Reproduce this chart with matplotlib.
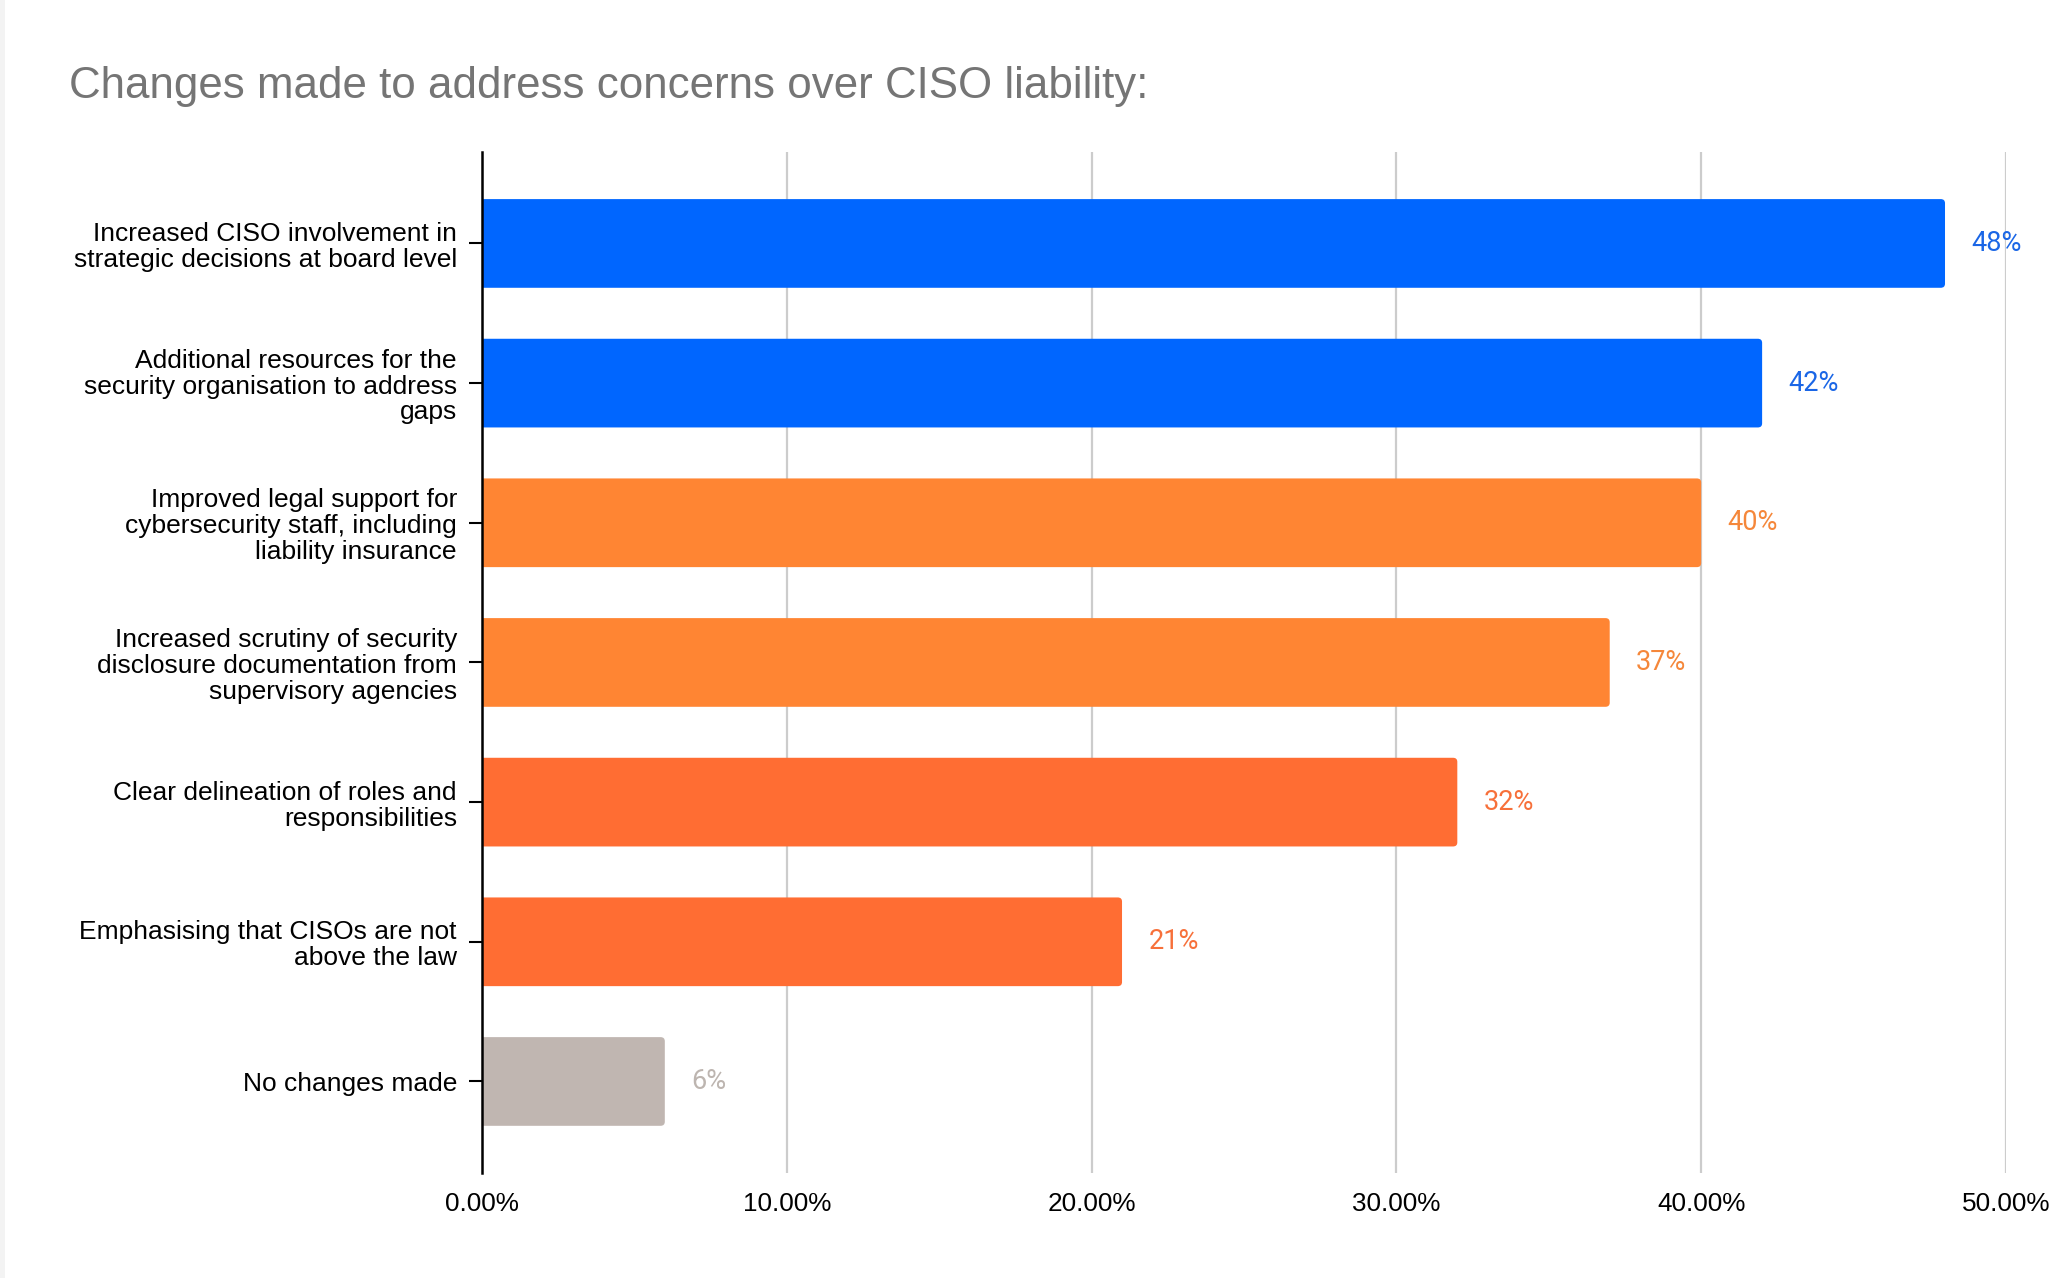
import matplotlib

matplotlib.use("Agg")
import matplotlib.pyplot as plt
from matplotlib.patches import FancyBboxPatch, Rectangle

CATEGORIES = [
    "Increased CISO involvement in\nstrategic decisions at board level",
    "Additional resources for the\nsecurity organisation to address\ngaps",
    "Improved legal support for\ncybersecurity staff, including\nliability insurance",
    "Increased scrutiny of security\ndisclosure documentation from\nsupervisory agencies",
    "Clear delineation of roles and\nresponsibilities",
    "Emphasising that CISOs are not\nabove the law",
    "No changes made",
]
VALUES = [48, 42, 40, 37, 32, 21, 6]
BAR_COLORS = ["#0066ff", "#0066ff", "#ff8533", "#ff8533", "#ff6d33", "#ff6d33", "#c0b6b1"]
LABEL_COLORS = ["#1a66e6", "#1a66e6", "#f5873a", "#f5873a", "#f7703a", "#f7703a", "#bdb5b0"]
XTICKS = [0, 10, 20, 30, 40, 50]
TITLE = "Changes made to address concerns over CISO liability:"

plt.rcParams["font.family"] = ["Liberation Sans", "DejaVu Sans"]

fig = plt.figure(figsize=(20.71, 12.78), dpi=100)
fig.patches.append(Rectangle((0, 0), 0.0025, 1, transform=fig.transFigure,
                             facecolor="#f3f3f3", edgecolor="none", zorder=-1))
ax = fig.add_axes([0.2327, 0.0822, 0.7359, 0.7989])

y = list(range(len(VALUES)))
bars = ax.barh(y, VALUES, height=0.635, color=BAR_COLORS, zorder=3)

# swap plain bars for ones with slightly rounded corners
for b in bars:
    x0, y0 = b.get_x(), b.get_y()
    w, h = b.get_width(), b.get_height()
    fb = FancyBboxPatch((x0 - 0.4, y0), w + 0.4, h,
                        boxstyle="round,pad=0,rounding_size=0.14",
                        mutation_aspect=0.21, facecolor=b.get_facecolor(),
                        edgecolor="none", zorder=3)
    b.set_visible(False)
    ax.add_patch(fb)

for yi, v, c in zip(y, VALUES, LABEL_COLORS):
    ax.annotate(f"{v}%", (v, yi), xytext=(19, 0), textcoords="offset points",
                va="center", ha="left", fontsize=19.5, color=c, family=["Roboto", "DejaVu Sans"])

ax.set_xlim(0, 50)
ax.set_ylim(len(VALUES) - 1 + 0.655, -0.655)
ax.set_xticks(XTICKS)
ax.set_xticklabels([f"{t:.2f}%" for t in XTICKS], fontsize=18.8)
ax.set_yticks(y)
ax.set_yticklabels(CATEGORIES, fontsize=19, linespacing=1.1)
ax.tick_params(axis="x", length=0, pad=14)
ax.tick_params(axis="y", direction="inout", length=19, width=1.5, pad=8.5)
ax.grid(axis="x", color="#cccccc", linewidth=1.6, zorder=0)
for s in ("top", "right", "bottom"):
    ax.spines[s].set_visible(False)
ax.spines["left"].set_linewidth(1.8)
ax.spines["left"].set_zorder(4)

fig.text(0.0333, 0.9233, TITLE, fontsize=31.6, color="#757575", ha="left", va="baseline")

fig.savefig("out.png", dpi=100, facecolor="white")
